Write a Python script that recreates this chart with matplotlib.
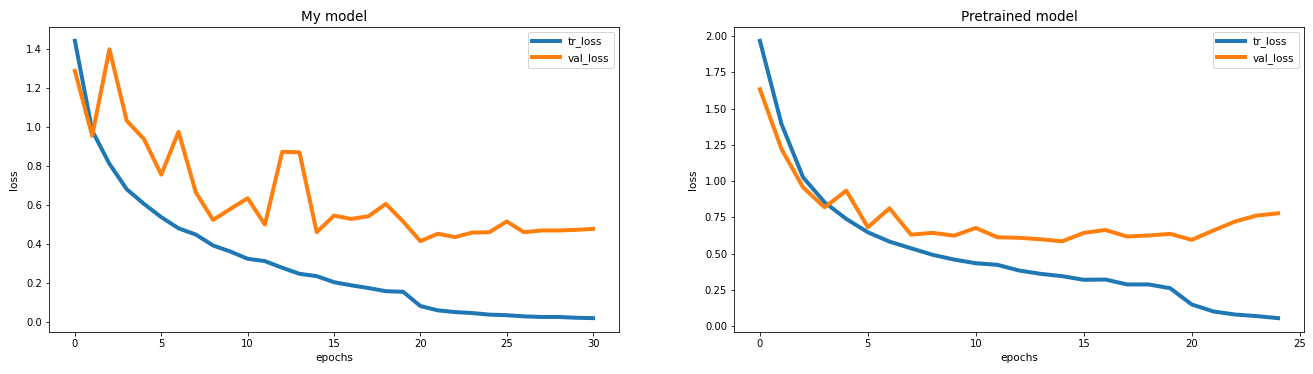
import matplotlib
matplotlib.use("Agg")
import matplotlib.pyplot as plt

# My model
my_tr_loss = [1.44, 0.98, 0.81, 0.68, 0.605, 0.537, 0.48, 0.448, 0.392, 0.361, 0.324,
              0.312, 0.278, 0.247, 0.235, 0.204, 0.188, 0.174, 0.158, 0.155, 0.082,
              0.06, 0.051, 0.046, 0.038, 0.035, 0.029, 0.026, 0.026, 0.022, 0.02]
my_val_loss = [1.286, 0.954, 1.397, 1.031, 0.937, 0.755, 0.974, 0.664, 0.523, 0.579, 0.634,
               0.499, 0.872, 0.869, 0.46, 0.545, 0.528, 0.542, 0.605, 0.515, 0.414,
               0.452, 0.435, 0.458, 0.46, 0.515, 0.46, 0.469, 0.469, 0.472, 0.477]

# Pretrained model
pre_tr_loss = [1.966, 1.393, 1.026, 0.854, 0.74, 0.648, 0.584, 0.538, 0.493, 0.46, 0.435,
               0.424, 0.385, 0.362, 0.346, 0.321, 0.323, 0.289, 0.289, 0.263, 0.151,
               0.103, 0.082, 0.071, 0.057]
pre_val_loss = [1.633, 1.221, 0.957, 0.82, 0.935, 0.683, 0.813, 0.632, 0.644, 0.625, 0.678,
                0.614, 0.61, 0.60, 0.586, 0.644, 0.664, 0.619, 0.626, 0.637, 0.596,
                0.66, 0.722, 0.763, 0.779]

titles = ["My model", "Pretrained model"]

W, H = 1313, 374
dpi = 72
fig = plt.figure(figsize=(W / dpi, H / dpi), dpi=dpi)

def px_axes(l, t, r, b):
    return fig.add_axes([l / W, 1 - b / H, (r - l) / W, (b - t) / H])

ax1 = px_axes(49, 27, 619, 332)
ax2 = px_axes(734, 27, 1304, 332)

for ax, tr, val, title in [(ax1, my_tr_loss, my_val_loss, titles[0]),
                           (ax2, pre_tr_loss, pre_val_loss, titles[1])]:
    ax.plot(range(len(tr)), tr, linewidth=4, label="tr_loss")
    ax.plot(range(len(val)), val, linewidth=4, label="val_loss")
    ax.set_title(title, fontsize=13.5, pad=6)
    ax.set_xlabel("epochs", fontsize=10.5)
    ax.set_ylabel("loss", fontsize=10.5, labelpad=7)
    ax.tick_params(labelsize=10)
    ax.legend(loc="upper right", fontsize=10.5, handlelength=2.6)

fig.savefig("out.png", dpi=dpi)
